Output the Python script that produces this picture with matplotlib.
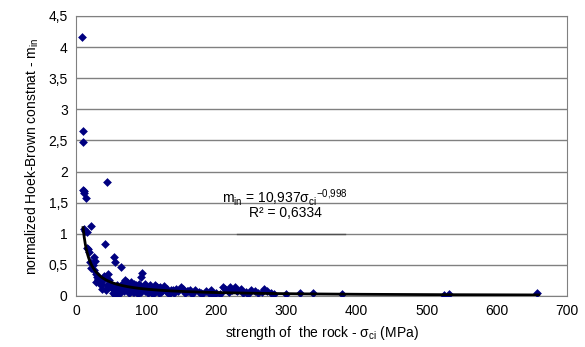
import numpy as np
import matplotlib.pyplot as plt

plt.rcParams['font.family'] = ['Liberation Sans', 'DejaVu Sans']
plt.rcParams['mathtext.default'] = 'regular'

# measured points: uniaxial strength (MPa) and normalized m_i
sigma_ci = [9, 9.5, 9.5, 10, 11, 12, 14, 44, 21, 12, 13, 15, 41, 16, 17, 18, 54, 56, 64,
            20, 22, 24, 26, 27, 25, 28, 30, 32, 34, 29, 36, 38, 40, 42, 45, 47, 44, 50,
            33, 35, 37, 39, 43, 46, 48, 31, 52, 55, 58, 60, 62, 65, 67, 70, 72, 74, 76,
            78, 80, 82, 84, 86, 88, 90, 92, 94, 96, 98, 100, 102, 104, 106, 108, 110,
            112, 114, 116, 118, 120, 122, 125, 128, 130, 133, 136, 140, 145, 150, 152,
            155, 158, 162, 165, 170, 175, 180, 185, 190, 195, 200, 205, 210, 213, 216,
            220, 223, 226, 230, 235, 238, 242, 250, 255, 260, 268, 272, 278, 282, 300,
            319, 338, 379, 525, 532, 657,
            57, 63, 68, 73, 77, 83, 87, 91, 97, 103, 109, 115, 124, 135, 143, 160, 178,
            192, 218, 228, 245, 265,
            53, 59, 61, 66, 69, 71, 75, 79, 81, 85, 89, 93, 99, 101, 105, 107, 111, 113,
            117, 119, 121, 127, 131, 138]
m_in = [4.16, 2.65, 2.48, 1.70, 1.68, 1.65, 1.58, 1.83, 1.13, 1.08, 1.05, 1.03, 0.83, 0.77,
        0.75, 0.70, 0.63, 0.55, 0.47,
        0.55, 0.45, 0.50, 0.62, 0.57, 0.42, 0.35, 0.30, 0.25, 0.27, 0.22, 0.20, 0.28,
        0.32, 0.30, 0.35, 0.25, 0.18, 0.15,
        0.22, 0.18, 0.12, 0.25, 0.10, 0.14, 0.20, 0.28, 0.05, 0.02, 0.10, 0.08, 0.15,
        0.20, 0.12, 0.25, 0.22, 0.18, 0.05,
        0.08, 0.12, 0.20, 0.15, 0.10, 0.04, 0.20, 0.30, 0.37, 0.12, 0.08, 0.15, 0.05,
        0.10, 0.18, 0.12, 0.03,
        0.15, 0.08, 0.12, 0.05, 0.15, 0.10, 0.16, 0.08, 0.12, 0.03, 0.10, 0.05, 0.08,
        0.15, 0.12,
        0.05, 0.08, 0.10, 0.04, 0.10, 0.06, 0.03, 0.08, 0.05, 0.02, 0.05, 0.03, 0.14,
        0.12, 0.08,
        0.15, 0.10, 0.15, 0.08, 0.12, 0.05, 0.06, 0.10, 0.08, 0.05, 0.12, 0.08, 0.05,
        0.03, 0.04,
        0.05, 0.05, 0.03, 0.02, 0.03, 0.05,
        0.12, 0.06, 0.18, 0.10, 0.15, 0.06, 0.14, 0.08, 0.16, 0.12, 0.06, 0.14, 0.10,
        0.06, 0.12, 0.08, 0.05, 0.10, 0.06, 0.09, 0.04, 0.07,
        0.12, 0.18, 0.04, 0.16, 0.08, 0.20, 0.10, 0.22, 0.06, 0.17, 0.12, 0.07, 0.20,
        0.09, 0.14, 0.06, 0.11, 0.17, 0.09, 0.13, 0.07, 0.12, 0.06, 0.09]

# power trendline coefficients
a_fit = 10.937
b_fit = -0.998
x_fit = np.linspace(10, 660, 400)

yticks = [0, 0.5, 1, 1.5, 2, 2.5, 3, 3.5, 4, 4.5]
ytick_labels = ['0', '0,5', '1', '1,5', '2', '2,5', '3', '3,5', '4', '4,5']

fig = plt.figure(figsize=(5.85, 3.47), dpi=100)
ax = fig.add_axes([0.130, 0.147, 0.839, 0.807])

ax.scatter(sigma_ci, m_in, marker='D', s=20, color='#000080', zorder=3, linewidths=0)
ax.plot(x_fit, a_fit * x_fit ** b_fit, color='black', lw=2, zorder=4)

ax.set_xlim(0, 700)
ax.set_ylim(0, 4.5)
ax.set_yticks(yticks)
ax.set_yticklabels(ytick_labels)
ax.set_xticks(range(0, 701, 100))
ax.tick_params(length=0, labelsize=10, pad=6)

ax.yaxis.grid(True, color='#808080', lw=1)
ax.set_axisbelow(True)
for s in ax.spines.values():
    s.set_color('#808080')

ax.plot([230, 383], [1, 1], color='#505050', lw=1, zorder=2)

ax.text(298, 1.59, 'm$_{in}$ = 10,937σ$_{ci}$$^{-0{,}998}$', ha='center', va='center', fontsize=10)
ax.text(298, 1.33, 'R² = 0,6334', ha='center', va='center', fontsize=10)

ax.set_xlabel('strength of  the rock - σ$_{ci}$ (MPa)', fontsize=10, labelpad=4)
ax.set_ylabel('normalized Hoek-Brown constnat - m$_{in}$', fontsize=10, labelpad=5)

fig.savefig('out.png', dpi=100)
